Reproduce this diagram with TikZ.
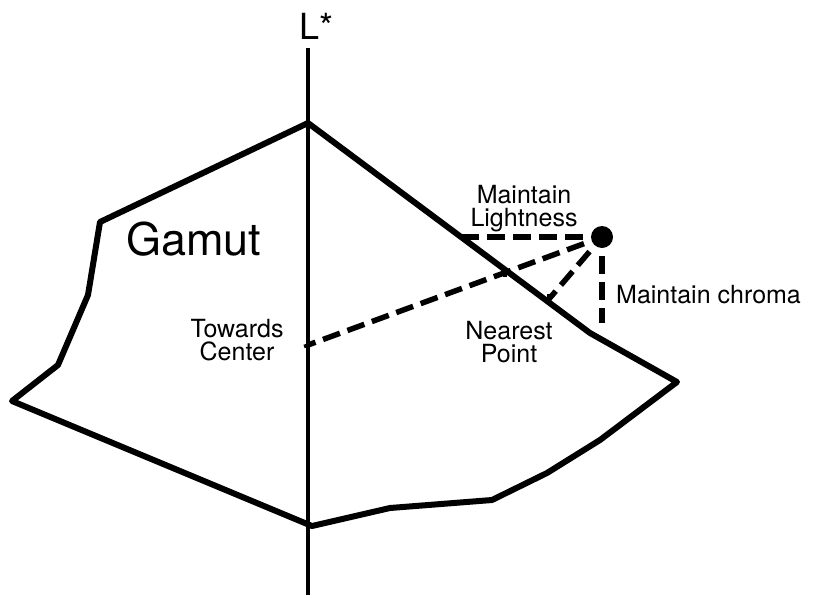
\documentclass[tikz,border=0pt]{standalone}
\usepackage{fontspec}
\setmainfont{TeX Gyre Heros}
\begin{document}
\begin{tikzpicture}[x=1pt,y=-1pt,
  boundary/.style={line width=6pt,line join=round},
  axisline/.style={line width=3.5pt},
  guide/.style={line width=5.5pt,dash pattern=on 18pt off 8pt,dash phase=18pt},
  tickmark/.style={line width=3.5pt},
  lbl/.style={inner sep=0pt,align=center,font=\fontsize{25}{23.5}\selectfont}]
\useasboundingbox (0,0) rectangle (820,595);

% lightness axis
\coordinate (axtop) at (308,48);
\coordinate (axbot) at (308,595);
\draw[axisline] (axtop) -- (axbot);
\node[anchor=base west,inner sep=0pt,font=\fontsize{36}{36}\selectfont] (lstar) at (299,39) {L*};

% gamut boundary
\draw[boundary] (308,123) -- (590,333) -- (677,382)
  -- (600,440) -- (547,473) -- (492,500) -- (390,508) -- (312,526)
  -- (12,401) -- (58,365) -- (88,295) -- (100,222) -- cycle;
\node[anchor=base west,inner sep=0pt,font=\fontsize{45}{45}\selectfont] (gamut) at (126,255) {Gamut};

% out-of-gamut colour and its mapping targets
\node[circle,fill,inner sep=0pt,minimum size=22pt] (pt) at (602,237) {};
\coordinate (lit) at (462,237);
\coordinate (chr) at (602,323);
\coordinate (near) at (549,299);
\coordinate (cross) at (505,273);
\coordinate (ctr) at (308,345);

\draw[guide] (pt) -- (lit);
\draw[guide] (pt) -- (chr);
\draw[guide] (pt) -- (near);
\draw[guide] (pt) -- (ctr);

% small marks where the mapping lines meet the boundary and the axis
\draw[tickmark] ([yshift=5pt]near) -- ([yshift=-4pt]near);
\draw[tickmark] ([yshift=5pt]cross) -- ([yshift=-4pt]cross);
\draw[tickmark] ([xshift=5pt,yshift=1.5pt]ctr) -- ([xshift=-4pt,yshift=-1.5pt]ctr);

% labels
\node[lbl,anchor=north] (lbllight) at (524,185) {Maintain\\Lightness};
\node[lbl,anchor=base west] (lblchroma) at (616,303) {Maintain chroma};
\node[lbl,anchor=north] (lblnear) at (509,321) {Nearest\\Point};
\node[lbl,anchor=north] (lblctr) at (237,319) {Towards\\Center};
\end{tikzpicture}
\end{document}
